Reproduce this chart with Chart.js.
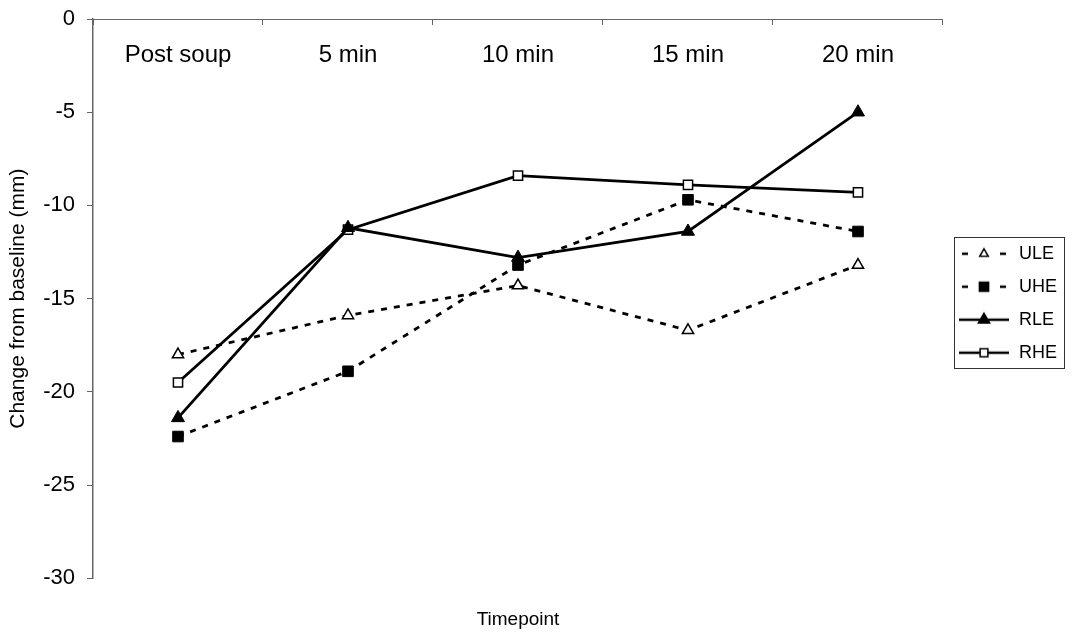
<!DOCTYPE html>
<html>
<head>
<meta charset="utf-8">
<script src="https://cdn.jsdelivr.net/npm/chart.js@4.4.1/dist/chart.umd.min.js"></script>
<style>
  html, body { margin: 0; padding: 0; background: #fff; }
  #wrap { width: 1073px; height: 636px; }
</style>
</head>
<body>
<div id="wrap"><canvas id="chart"></canvas></div>
<script>
// categories (x axis, drawn at the top)
const timepoints = ['Post soup', '5 min', '10 min', '15 min', '20 min'];

// change from baseline (mm)
const ULE = [-18.0, -15.9, -14.3, -16.7, -13.2];
const UHE = [-22.4, -18.9, -13.2, -9.7, -11.4];
const RLE = [-21.4, -11.2, -12.8, -11.4, -5.0];
const RHE = [-19.5, -11.3, -8.4, -8.9, -9.3];

// y axis range / step
const yMin = -30;
const yMax = 0;
const yStep = 5;

const FONT = 'Arial, "Liberation Sans", Helvetica, sans-serif';

// legend samples: line + marker in one little canvas
function legendSample(dashed, style, radius, fill) {
    const c = document.createElement('canvas');
    c.width = 52;
    c.height = 18;
    const g = c.getContext('2d');
    g.strokeStyle = '#000';
    g.lineWidth = 2.5;
    g.beginPath();
    if (dashed) {
        g.moveTo(4, 9); g.lineTo(10, 9);
        g.moveTo(42, 9); g.lineTo(48, 9);
    } else {
        g.moveTo(1, 9); g.lineTo(51, 9);
    }
    g.stroke();
    g.fillStyle = fill;
    g.lineWidth = 1.5;
    Chart.helpers.drawPoint(g, {pointStyle: style, radius: radius, borderWidth: 1.5, rotation: 0}, 26, 9);
    return c;
}

const samples = [
    legendSample(true, 'triangle', 5, '#fff'),
    legendSample(true, 'rect', 6.5, '#000'),
    legendSample(false, 'triangle', 6.5, '#000'),
    legendSample(false, 'rect', 5.5, '#fff')
];

// frame around the legend
const legendFrame = {
    id: 'legendFrame',
    afterDraw(chart) {
        const boxes = chart.legend.legendHitBoxes;
        if (!boxes || !boxes.length) return;
        let l = Infinity, t = Infinity, r = -Infinity, b = -Infinity;
        boxes.forEach(function(h) {
            l = Math.min(l, h.left);
            t = Math.min(t, h.top);
            r = Math.max(r, h.left + h.width);
            b = Math.max(b, h.top + h.height);
        });
        const ctx = chart.ctx;
        ctx.save();
        ctx.strokeStyle = '#333';
        ctx.lineWidth = 1;
        ctx.strokeRect(Math.round(l - 4) + 0.5, Math.round(t - 8) + 0.5, Math.round(r - l + 11), Math.round(b - t + 14));
        ctx.restore();
    }
};

const ctx = document.getElementById('chart').getContext('2d');
const chart = new Chart(ctx, {
    type: 'line',
    data: {
        labels: timepoints,
        datasets: [
            {
                label: 'ULE',
                data: ULE,
                borderColor: '#000',
                borderWidth: 2.8,
                borderDash: [6, 7],
                pointStyle: 'triangle',
                pointRadius: 6.5,
                pointBorderWidth: 1.5,
                pointBackgroundColor: '#fff',
                pointBorderColor: '#000',
                tension: 0
            },
            {
                label: 'UHE',
                data: UHE,
                borderColor: '#000',
                borderWidth: 2.8,
                borderDash: [6, 7],
                pointStyle: 'rect',
                pointRadius: 7.5,
                pointBorderWidth: 1,
                pointBackgroundColor: '#000',
                pointBorderColor: '#000',
                tension: 0
            },
            {
                label: 'RLE',
                data: RLE,
                borderColor: '#000',
                borderWidth: 2.8,
                pointStyle: 'triangle',
                pointRadius: 7.5,
                pointBorderWidth: 1,
                pointBackgroundColor: '#000',
                pointBorderColor: '#000',
                tension: 0
            },
            {
                label: 'RHE',
                data: RHE,
                borderColor: '#000',
                borderWidth: 2.8,
                pointStyle: 'rect',
                pointRadius: 6.5,
                pointBorderWidth: 1.5,
                pointBackgroundColor: '#fff',
                pointBorderColor: '#000',
                tension: 0
            }
        ]
    },
    options: {
        responsive: true,
        maintainAspectRatio: false,
        animation: false,
        layout: { padding: { top: 0, left: 0, right: 6, bottom: 0 } },
        scales: {
            x: {
                type: 'category',
                position: 'top',
                offset: true,
                grid: {
                    offset: true,
                    drawOnChartArea: false,
                    drawTicks: true,
                    tickLength: -6,
                    color: '#666'
                },
                border: { color: '#666', width: 1 },
                ticks: {
                    mirror: true,
                    color: '#000',
                    font: { family: FONT, size: 24 },
                    padding: 22,
                    maxRotation: 0,
                    autoSkip: false
                },
                afterFit: function(scale) { scale.height = 19; }
            },
            y: {
                min: yMin,
                max: yMax,
                grid: {
                    drawOnChartArea: false,
                    tickLength: 6,
                    color: '#666'
                },
                border: { color: '#666', width: 1.5 },
                ticks: {
                    stepSize: yStep,
                    color: '#000',
                    font: { family: FONT, size: 22 },
                    padding: 12
                },
                title: {
                    display: true,
                    text: 'Change from baseline (mm)',
                    color: '#000',
                    font: { family: FONT, size: 21 },
                    padding: { top: 6, bottom: 0 }
                },
                afterFit: function(scale) {
                    scale.width = 93;
                    scale.paddingTop = 12;
                    scale.paddingBottom = 12;
                }
            }
        },
        plugins: {
            legend: {
                position: 'right',
                fullSize: false,
                title: {
                    display: true,
                    text: ' ',
                    font: { size: 1 },
                    padding: { top: 4, bottom: 4 }
                },
                labels: {
                    usePointStyle: true,
                    pointStyleWidth: 52,
                    color: '#000',
                    font: { family: FONT, size: 18 },
                    padding: 15,
                    generateLabels: function(chart) {
                        const items = Chart.defaults.plugins.legend.labels.generateLabels(chart);
                        items.forEach(function(it, i) { it.pointStyle = samples[i]; });
                        return items;
                    }
                }
            },
            title: {
                display: true,
                text: 'Timepoint',
                position: 'bottom',
                fullSize: false,
                color: '#000',
                font: { family: FONT, size: 19, weight: 'normal' },
                padding: { top: 30, bottom: 5 }
            },
            tooltip: { enabled: false }
        }
    },
    plugins: [legendFrame]
});
</script>
</body>
</html>
